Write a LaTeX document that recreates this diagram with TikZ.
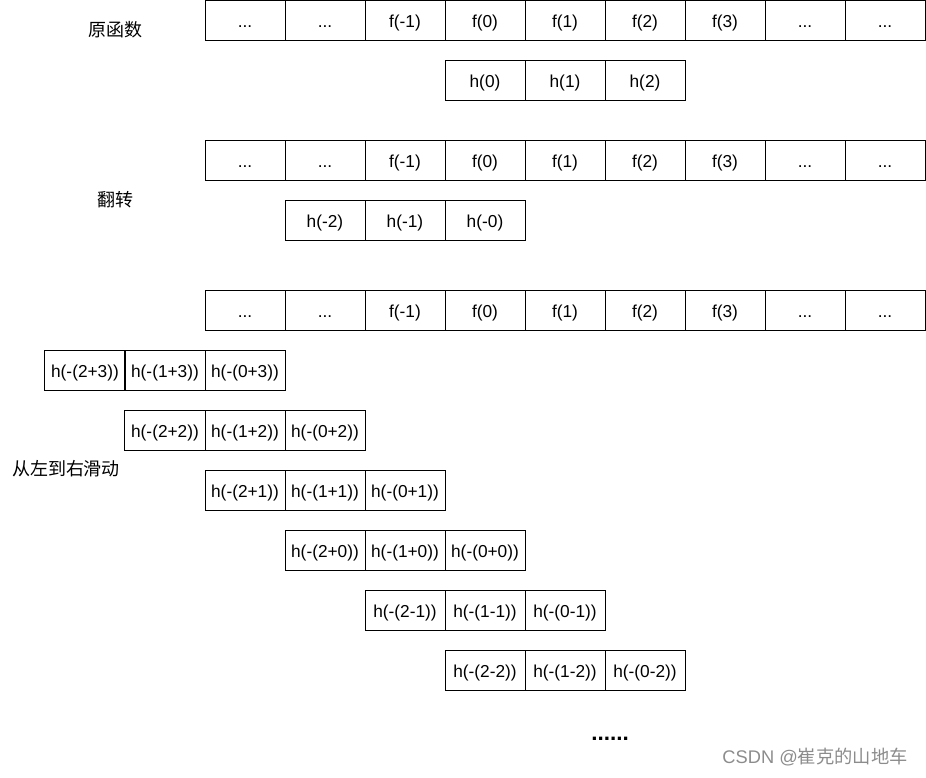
\documentclass[tikz,border=0pt]{standalone}
\usepackage{fontspec}
\setmainfont{Liberation Sans}
\newfontfamily\cjk{Noto Sans CJK SC}
\usetikzlibrary{positioning}

\newcommand{\tdots}{...}

\tikzset{
    cell/.style={draw=black, line width=0.7pt, minimum width=2cm, minimum height=1cm,
        inner sep=0pt, text height=11pt, text depth=1pt,
        font=\fontsize{12.3}{14}\selectfont},
    lbl/.style={font=\cjk\fontsize{12.8}{14}\selectfont, inner sep=0pt}
}

\begin{document}
\begin{tikzpicture}[x=0.025cm, y=-0.025cm]
    \useasboundingbox (0,0) rectangle (926,777);

    % f rows
    \foreach \row/\yc in {a/20.5, c/160, e/310} {
        \foreach \t [count=\i] in {\tdots,\tdots,f(-1),f(0),f(1),f(2),f(3),\tdots,\tdots} {
            \node[cell] (f\row\i) at (165+80*\i, \yc) {\t};
        }
    }

    % h and flipped h
    \foreach \t [count=\i] in {h(0),h(1),h(2)} {
        \node[cell] (hb\i) at (405+80*\i, 80) {\t};
    }
    \foreach \t [count=\i] in {h(-2),h(-1),h(-0)} {
        \node[cell] (hd\i) at (245+80*\i, 220) {\t};
    }

    % sliding rows
    \foreach \s [count=\r from 0] in {+3,+2,+1,+0,-1,-2} {
        \foreach \k [count=\i] in {2,1,0} {
            \node[cell] (s\r-\i) at (5+80*\r+80*\i, 370+60*\r) {h(-(\k\s))};
        }
    }

    \node[lbl] (yuan) at (115,30) {原函数};
    \node[lbl] (fanzhuan) at (115,200) {翻转};
    \node[lbl] (huadong) at (66,469) {从左到右滑动};
    \node[font=\bfseries\fontsize{16}{17}\selectfont, inner sep=0pt, anchor=base] (more) at (610,740) {......};
    \node[text=black!45, font=\fontsize{13}{15}\selectfont, inner sep=0pt] (mark) at (815,757)
        {CSDN @{\cjk 崔克的山地车}};
\end{tikzpicture}
\end{document}
